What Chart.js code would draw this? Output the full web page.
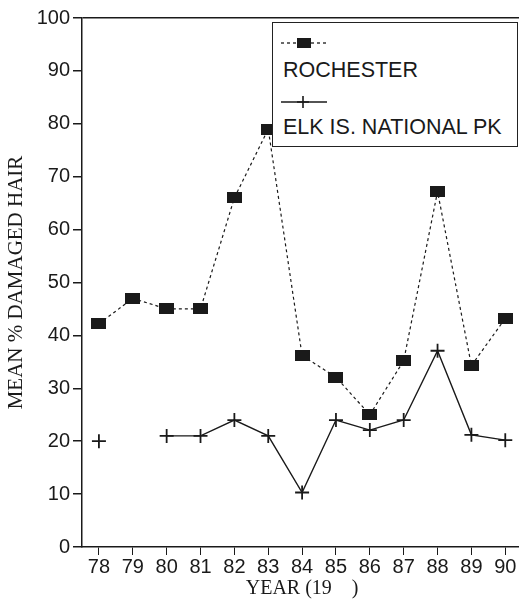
<!DOCTYPE html>
<html>
<head>
<meta charset="utf-8">
<script src="https://cdn.jsdelivr.net/npm/chart.js@4/dist/chart.umd.min.js"></script>
<style>
  body { margin: 0; background: #fff; }
  #wrap { position: relative; width: 519px; height: 601px; overflow: hidden; }
  #box { position: absolute; left: 0; top: 0; width: 531px; height: 601px; }
  #legend {
    position: absolute; left: 272px; top: 22px; width: 244px; height: 123px;
    border: 1.5px solid #222; background: #fff;
    font-family: "Liberation Sans", Arial, sans-serif; font-size: 21.5px; line-height: 24px; color: #1a1a1a;
  }
  #legend .row { position: absolute; left: 10px; white-space: nowrap; }
  #legend canvas { position: absolute; left: 8px; }
</style>
</head>
<body>
<div id="wrap">
  <div id="box"><canvas id="chart"></canvas></div>
  <div id="legend"></div>
</div>
<script>
const years = ["78", "79", "80", "81", "82", "83", "84", "85", "86", "87", "88", "89", "90"];
const rochester = [42.2, 47, 45, 45, 66, 79, 36.2, 32.1, 25, 35.2, 67.2, 34.3, 43.2];
const elkIsland = [20, null, 21, 21, 24, 21, 10.3, 24, 22.1, 24, 37.1, 21.2, 20.2];
const yTicks = [0, 10, 20, 30, 40, 50, 60, 70, 80, 90, 100];
const seriesNames = ["ROCHESTER", "ELK IS. NATIONAL PK"];

const ink = "#1a1a1a";

const makeBlock = () => {
  const c = document.createElement("canvas");
  c.width = 15; c.height = 11;
  const g = c.getContext("2d");
  g.fillStyle = ink;
  g.fillRect(0, 0, 15, 11);
  return c;
};

const renderLegend = () => {
  const box = document.getElementById("legend");
  const drawSym = (top, dashed) => {
    const c = document.createElement("canvas");
    c.width = 50; c.height = 14;
    c.style.top = top + "px";
    const g = c.getContext("2d");
    g.strokeStyle = ink;
    g.lineWidth = 1.3;
    g.setLineDash(dashed ? [3, 3] : []);
    g.beginPath(); g.moveTo(0, 7); g.lineTo(46, 7); g.stroke();
    g.setLineDash([]);
    if (dashed) {
      g.fillStyle = ink;
      g.fillRect(16, 2, 14, 10);
    } else {
      g.lineWidth = 1.6;
      g.beginPath(); g.moveTo(22, 1); g.lineTo(22, 13); g.moveTo(16, 7); g.lineTo(28, 7); g.stroke();
    }
    box.appendChild(c);
  };
  const addText = (top, txt) => {
    const d = document.createElement("div");
    d.className = "row";
    d.style.top = top + "px";
    d.textContent = txt;
    box.appendChild(d);
  };
  drawSym(13, true);
  addText(35, seriesNames[0]);
  drawSym(72, false);
  addText(92, seriesNames[1]);
};

const main = () => {
  const ctx = document.getElementById("chart").getContext("2d");
  new Chart(ctx, {
    type: "line",
    data: {
      labels: years,
      datasets: [
        {
          label: seriesNames[0],
          data: rochester,
          borderColor: ink,
          borderWidth: 1.2,
          borderDash: [3, 3],
          pointStyle: makeBlock(),
          pointRadius: 7,
          tension: 0
        },
        {
          label: seriesNames[1],
          data: elkIsland,
          borderColor: ink,
          borderWidth: 1.4,
          pointStyle: "cross",
          pointRadius: 7,
          pointBorderWidth: 1.8,
          pointBorderColor: ink,
          spanGaps: false,
          tension: 0
        }
      ]
    },
    options: {
      responsive: true,
      maintainAspectRatio: false,
      animation: false,
      layout: { padding: { top: 18, right: 0, left: 0, bottom: 0 } },
      plugins: { legend: { display: false }, tooltip: { enabled: false } },
      scales: {
        x: {
          offset: true,
          afterFit: (axis) => { axis.height = 54; },
          grid: { drawOnChartArea: false, drawTicks: true, tickLength: 8, tickColor: ink, offset: false },
          border: { display: true, color: ink, width: 1.5 },
          ticks: { color: ink, padding: 0, font: { family: "Liberation Sans", size: 20 } },
          title: { display: true, text: "YEAR (19    )", color: ink, padding: { top: 0, bottom: 0 },
                   font: { family: "Liberation Serif", size: 20 } }
        },
        y: {
          min: 0, max: 100,
          afterFit: (axis) => { axis.width = 82; },
          afterBuildTicks: (axis) => { axis.ticks = yTicks.map(v => ({ value: v })); },
          grid: {
            color: (c) => c.tick && c.tick.value === 100 ? ink : "transparent",
            tickColor: ink, tickLength: 9, lineWidth: 1.5
          },
          border: { display: true, color: ink, width: 1.5 },
          ticks: { color: ink, padding: 3, font: { family: "Liberation Sans", size: 20 } },
          title: { display: true, text: "MEAN % DAMAGED HAIR", color: ink, padding: { top: 4, bottom: 0 },
                   font: { family: "Liberation Serif", size: 21 } }
        }
      }
    }
  });
  renderLegend();
};

main();
</script>
</body>
</html>
